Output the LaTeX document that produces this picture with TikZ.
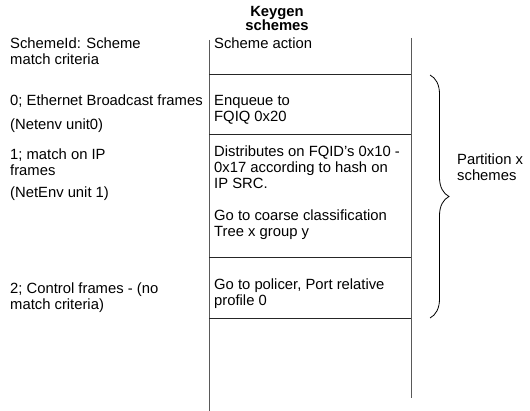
\documentclass[tikz,border=0pt]{standalone}
\usepackage{fontspec}
\setmainfont{Liberation Sans}
\usetikzlibrary{decorations.pathreplacing}
\begin{document}
\begin{tikzpicture}[x=1pt,y=-1pt,
  txt/.style={anchor=base west,inner sep=0pt,font=\fontsize{14.8}{16}\selectfont,align=left},
  hdr/.style={anchor=base,inner sep=0pt,font=\fontsize{14.8}{13.5}\selectfont\bfseries,align=center},
  rule/.style={line width=0.9pt,black!85},
  vrule/.style={line width=1pt,black!65}]
\useasboundingbox (0,0) rectangle (530,411);
% table
\coordinate (tl) at (209,40);
\coordinate (bl) at (209,411);
\coordinate (tr) at (411,38);
\coordinate (br) at (411,398);
\draw[vrule] (tl) -- (bl);
\draw[vrule] (tr) -- (br);
\foreach \y/\n in {74/a,134/b,257/c,318/d}{
  \coordinate (h\n l) at (209,\y);
  \coordinate (h\n r) at (411,\y);
  \draw[rule] (h\n l) -- (h\n r);
}
% header (anchor base = last line)
\node[hdr] (head) at (277,31) {Keygen\\schemes};
% left column
\node[txt] (s0) at (10,65) {SchemeId: Scheme\\match criteria};
\node[txt] (l0) at (10,106) {0; Ethernet Broadcast frames};
\node[txt] (l0b) at (10,130) {(Netenv unit0)};
\node[txt] (l1) at (10,176) {1; match on IP\\frames};
\node[txt] (l1b) at (10,198) {(NetEnv unit 1)};
\node[txt] (l2) at (10,310) {2; Control frames - (no\\match criteria)};
% right column
\node[txt] (r0) at (214,49) {Scheme action};
\node[txt] (r1) at (214,122) {Enqueue to\\FQIQ 0x20};
\node[txt] (r2) at (214,189) {Distributes on FQID's 0x10 -\\0x17 according to hash on\\IP SRC.};
\node[txt] (r3) at (214,237) {Go to coarse classification\\Tree x group y};
\node[txt] (r4) at (214,306) {Go to policer, Port relative\\profile 0};
% brace
\coordinate (bt) at (430,75);
\coordinate (bb) at (430,318);
\draw[line width=0.8pt,decorate,decoration={brace,amplitude=19pt}] (bt) -- (bb);
\node[txt] (part) at (457,181) {Partition x\\schemes};
\end{tikzpicture}
\end{document}
